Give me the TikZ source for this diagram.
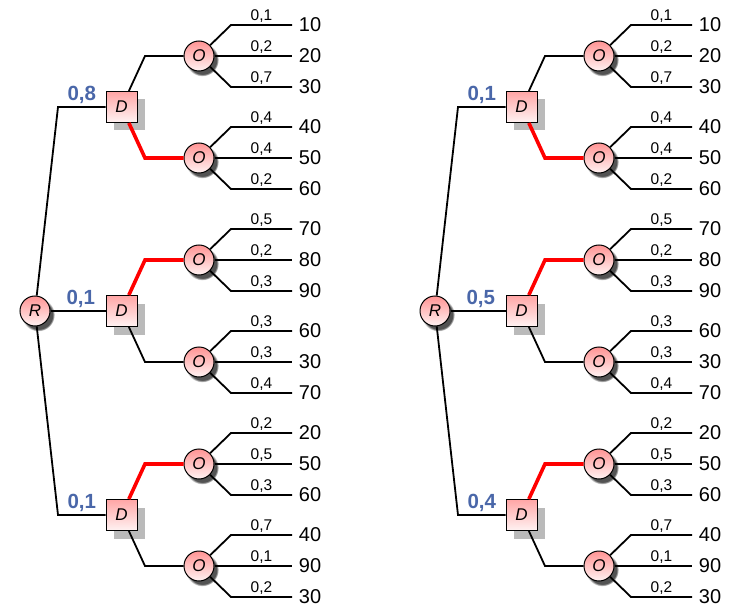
\documentclass[tikz,border=0pt]{standalone}
\usepackage{fontspec}
\setmainfont{Liberation Sans}
\usepackage{tikz}
\usetikzlibrary{shadows,fadings}
\definecolor{weightblue}{HTML}{4A67A9}

\begin{document}
\begin{tikzpicture}[x=1pt,y=-1pt,line width=1.8pt,
	chance/.style={circle,draw,line width=1pt,minimum size=30pt,inner sep=0pt,
		top color=red!42,bottom color=red!5,
		circular drop shadow={shadow xshift=3pt,shadow yshift=-3.5pt,fill=black!90,opacity=0.75},
		font=\fontsize{17}{17}\selectfont\itshape},
	decision/.style={rectangle,draw,line width=1pt,minimum size=31pt,inner sep=0pt,
		top color=red!35,bottom color=red!5,
		drop shadow={shadow xshift=8pt,shadow yshift=-8pt,fill=black!27,opacity=1},
		font=\fontsize{17}{17}\selectfont\itshape},
	leaf/.style={anchor=west,inner xsep=6pt,inner ysep=0pt,font=\fontsize{20}{20}\selectfont},
	prob/.style={above,inner sep=1.5pt,font=\fontsize{15.5}{15.5}\selectfont},
	weight/.style={above,inner sep=2pt,text=weightblue,font=\fontsize{20.5}{20.5}\selectfont\bfseries},
	best/.style={red,line width=3.6pt}]
		\useasboundingbox (0,0) rectangle (731,604);

		%% Left tree
		\node[chance] (R1) at (35,311) {R};
		\node[decision] (D11) at (121.5,107) {D};
		\node[decision] (D12) at (121.5,311) {D};
		\node[decision] (D13) at (121.5,515) {D};
		\draw (R1) -- ++(23,-204) -- node[weight] {0,8} (D11);
		\draw (R1) -- node[weight,pos=0.55] {0,1} (D12);
		\draw (R1) -- ++(23,204) -- node[weight] {0,1} (D13);

		\node[chance] (O1a) at (199,56) {O};
		\node[chance] (O1b) at (199,158) {O};
		\node[chance] (O1c) at (199,260) {O};
		\node[chance] (O1d) at (199,362) {O};
		\node[chance] (O1e) at (199,464) {O};
		\node[chance] (O1f) at (199,566) {O};
		\draw (D11) -- ++(23.5,-51) -- (O1a);
		\draw[best] (D11) -- ++(23.5,51) -- (O1b);
		\draw[best] (D12) -- ++(23.5,-51) -- (O1c);
		\draw (D12) -- ++(23.5,51) -- (O1d);
		\draw[best] (D13) -- ++(23.5,-51) -- (O1e);
		\draw (D13) -- ++(23.5,51) -- (O1f);

		%% Right tree
		\node[chance] (R2) at (435,311) {R};
		\node[decision] (D21) at (521.5,107) {D};
		\node[decision] (D22) at (521.5,311) {D};
		\node[decision] (D23) at (521.5,515) {D};
		\draw (R2) -- ++(23,-204) -- node[weight] {0,1} (D21);
		\draw (R2) -- node[weight,pos=0.55] {0,5} (D22);
		\draw (R2) -- ++(23,204) -- node[weight] {0,4} (D23);

		\node[chance] (O2a) at (599,56) {O};
		\node[chance] (O2b) at (599,158) {O};
		\node[chance] (O2c) at (599,260) {O};
		\node[chance] (O2d) at (599,362) {O};
		\node[chance] (O2e) at (599,464) {O};
		\node[chance] (O2f) at (599,566) {O};
		\draw (D21) -- ++(23.5,-51) -- (O2a);
		\draw[best] (D21) -- ++(23.5,51) -- (O2b);
		\draw[best] (D22) -- ++(23.5,-51) -- (O2c);
		\draw (D22) -- ++(23.5,51) -- (O2d);
		\draw[best] (D23) -- ++(23.5,-51) -- (O2e);
		\draw (D23) -- ++(23.5,51) -- (O2f);

		%% Outcomes of every chance node
		\foreach \o/\pa/\va/\pb/\vb/\pc/\vc in {
			1a/{0,1}/10/{0,2}/20/{0,7}/30, 1b/{0,4}/40/{0,4}/50/{0,2}/60,
			1c/{0,5}/70/{0,2}/80/{0,3}/90, 1d/{0,3}/60/{0,3}/30/{0,4}/70,
			1e/{0,2}/20/{0,5}/50/{0,3}/60, 1f/{0,7}/40/{0,1}/90/{0,2}/30,
			2a/{0,1}/10/{0,2}/20/{0,7}/30, 2b/{0,4}/40/{0,4}/50/{0,2}/60,
			2c/{0,5}/70/{0,2}/80/{0,3}/90, 2d/{0,3}/60/{0,3}/30/{0,4}/70,
			2e/{0,2}/20/{0,5}/50/{0,3}/60, 2f/{0,7}/40/{0,1}/90/{0,2}/30}
		{
			\path (O\o) ++(93,-31) node[leaf] (L\o1) {\va};
			\path (O\o) ++(93,0) node[leaf] (L\o2) {\vb};
			\path (O\o) ++(93,31) node[leaf] (L\o3) {\vc};
			\draw (O\o) -- ++(32,-31) -- node[prob] {\pa} (L\o1.west);
			\draw (O\o) -- ++(32,0) -- node[prob] {\pb} (L\o2.west);
			\draw (O\o) -- ++(32,31) -- node[prob] {\pc} (L\o3.west);
		}
	\end{tikzpicture}
\end{document}
